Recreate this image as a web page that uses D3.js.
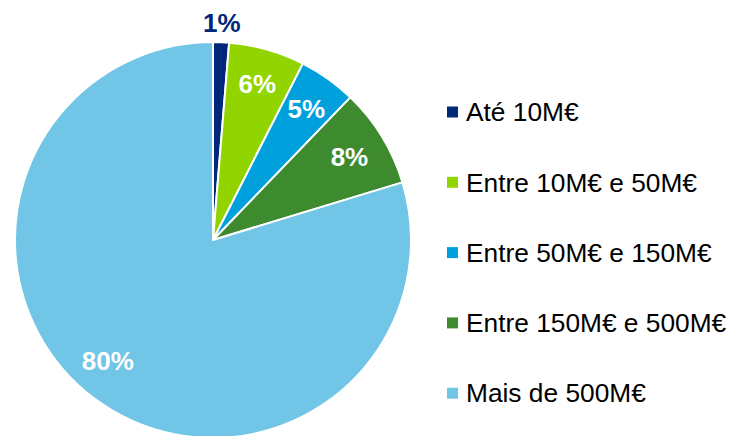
<!DOCTYPE html>
<html>
<head>
<meta charset="utf-8">
<script src="https://cdn.jsdelivr.net/npm/d3@7"></script>
<style>
  body { margin: 0; background: #fff; }
  svg { display: block; font-family: "Liberation Sans", Arial, sans-serif; }
</style>
</head>
<body>
<svg id="chart" width="733" height="436"></svg>
<script>
// Chart data
const categories = ["Até 10M€", "Entre 10M€ e 50M€", "Entre 50M€ e 150M€", "Entre 150M€ e 500M€", "Mais de 500M€"];
const values = [1.3, 6.2, 4.7, 8.1, 79.7];
const labels = ["1%", "6%", "5%", "8%", "80%"];
const colors = ["#002878", "#92D400", "#00A0DC", "#3E8A2F", "#71C5E6"];

const svg = d3.select("#chart");
const cx = 213, cy = 240, radius = 198;

const data = categories.map((c, i) => ({ name: c, value: values[i], label: labels[i], color: colors[i] }));

const pie = d3.pie().sort(null).value(d => d.value);
const arcs = pie(data);

const arc = d3.arc().innerRadius(0).outerRadius(radius);

// label placement: radius from center and a small angular nudge (radians)
const labelRadius = [217, 162, 161, 160, 160];
const labelNudge = [0, 0, 0, 0, 0.08];

const g = svg.append("g").attr("transform", `translate(${cx}, ${cy})`);

// Slices
g.selectAll("path")
    .data(arcs)
    .enter()
    .append("path")
    .attr("d", arc)
    .attr("fill", d => d.data.color)
    .attr("stroke", "#fff")
    .attr("stroke-width", 2)
    .attr("stroke-linejoin", "round");

// Percent labels (the tiny slice gets its label outside)
g.selectAll("text.pct")
    .data(arcs)
    .enter()
    .append("text")
    .attr("class", "pct")
    .attr("transform", (d, i) => {
        const a = (d.startAngle + d.endAngle) / 2 + labelNudge[i];
        const r = labelRadius[i];
        return `translate(${Math.sin(a) * r}, ${-Math.cos(a) * r})`;
    })
    .attr("text-anchor", "middle")
    .attr("dy", "0.35em")
    .attr("font-size", "26px")
    .attr("font-weight", "bold")
    .attr("fill", (d, i) => i === 0 ? colors[0] : "#fff")
    .text(d => d.data.label);

// Legend
const legend = svg.append("g")
    .attr("class", "legend")
    .attr("transform", "translate(447, 112)");

data.forEach((d, i) => {
    const row = legend.append("g")
        .attr("transform", `translate(0, ${i * 70.3})`);

    row.append("rect")
        .attr("x", 0)
        .attr("y", -5.5)
        .attr("width", 11)
        .attr("height", 11)
        .attr("fill", d.color);

    row.append("text")
        .attr("x", 19)
        .attr("y", 0)
        .attr("dy", "0.35em")
        .attr("font-size", "26.3px")
        .attr("fill", "#000")
        .text(d.name);
});
</script>
</body>
</html>
